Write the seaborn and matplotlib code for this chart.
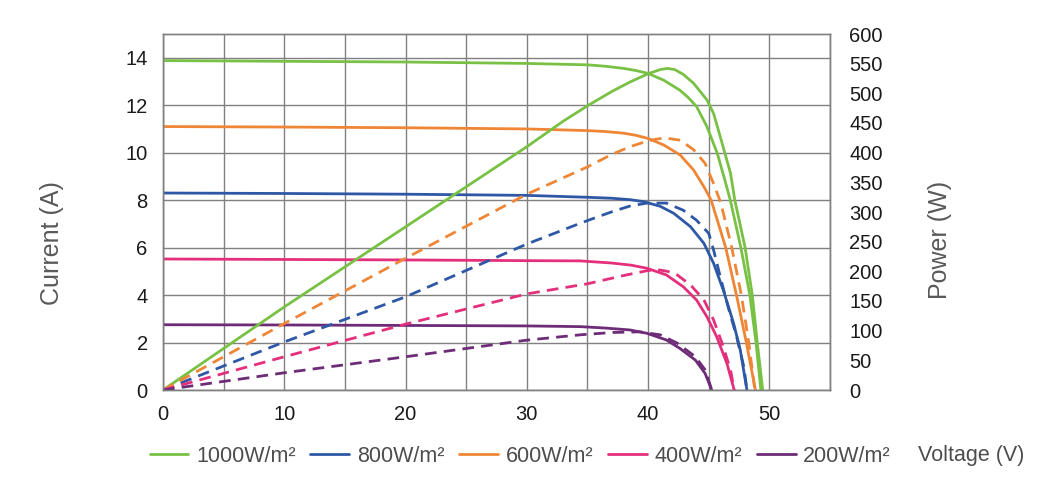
import matplotlib
matplotlib.use("Agg")
import matplotlib.pyplot as plt
from matplotlib.lines import Line2D
import seaborn as sns

# ---------------- data ----------------
labels = ["1000W/m²", "800W/m²", "600W/m²", "400W/m²", "200W/m²"]
colors = ["#78c144", "#2e58a6", "#ef8636", "#e4307c", "#6e2c78"]

# I-V curves (current in A)
v_iv_1000 = [0, 10, 20, 30, 35, 36.5, 38, 39, 40, 41.3, 42.6, 43.3, 44, 44.85, 45.7, 46.3, 46.78, 47.65, 48.4, 48.9, 49.3]
i_iv_1000 = [13.88, 13.85, 13.82, 13.76, 13.7, 13.64, 13.55, 13.46, 13.34, 13.05, 12.64, 12.33, 11.94, 11.1, 9.98, 8.9, 8.0, 6.0, 3.97, 2.0, 0]

v_iv_800 = [0, 10, 20, 30, 35, 37, 38.5, 39.6, 41, 42.1, 43.5, 44.6, 45.4, 46.2, 47.05, 47.6, 48.15]
i_iv_800 = [8.3, 8.28, 8.25, 8.2, 8.12, 8.08, 8.02, 7.94, 7.74, 7.45, 6.88, 6.18, 5.34, 4.21, 2.81, 1.69, 0]

v_iv_600 = [0, 10, 20, 30, 35, 36.5, 38, 39, 40, 41.3, 42.65, 43.75, 44.6, 45.2, 46.4, 47.3, 48.1, 48.85]
i_iv_600 = [11.1, 11.08, 11.05, 11.0, 10.93, 10.89, 10.82, 10.73, 10.6, 10.32, 9.9, 9.27, 8.57, 8.0, 6.0, 3.97, 2.0, 0]

v_iv_400 = [0, 10, 20, 30, 34.4, 37, 38.6, 39.9, 41.5, 42.9, 44.0, 44.85, 45.65, 46.5, 47.1]
i_iv_400 = [5.52, 5.5, 5.48, 5.45, 5.44, 5.35, 5.26, 5.13, 4.85, 4.35, 3.79, 3.09, 2.25, 1.12, 0]

v_iv_200 = [0, 10, 20, 30, 34.4, 36.5, 38.5, 39.9, 41.5, 42.6, 43.9, 44.7, 45.25]
i_iv_200 = [2.75, 2.74, 2.72, 2.7, 2.67, 2.61, 2.53, 2.39, 2.11, 1.76, 1.26, 0.70, 0]

# P-V curves (power in W)
v_p_1000 = [0, 10, 20, 30, 33, 35, 37, 38.5, 40, 41, 41.6, 42.2, 42.9, 43.75, 44.85, 45.4, 45.95, 46.8, 47.15, 48.0, 48.6, 49.0, 49.45]
p_1000 = [0, 140, 275, 410, 453, 479, 503, 519, 533, 540, 542, 540, 532, 517, 489, 466, 427, 365, 320, 240, 159, 80, 0]

v_p_800 = [0, 10, 20, 30, 34.4, 36, 37.1, 38.5, 39.9, 41.5, 42.9, 44.0, 45.0, 45.4, 45.95, 46.6, 47.3, 47.9, 48.15]
p_800 = [0, 81, 157, 246, 281, 293, 301, 310, 315, 315, 303, 286, 264, 236, 191, 140, 90, 39, 0]

v_p_600 = [0, 10, 20, 30, 35, 37, 38.5, 40, 41.3, 42.65, 43.75, 44.7, 45.4, 46.0, 46.9, 47.7, 48.3, 48.8]
p_600 = [0, 112, 222, 330, 376, 397, 410, 420, 425, 421, 405, 382, 348, 315, 240, 159, 80, 0]

v_p_400 = [0, 10, 20, 30, 35, 38, 39.9, 40.7, 41.6, 42.4, 43.5, 44.6, 45.4, 46.1, 46.8, 47.1]
p_400 = [0, 56, 111, 162, 179, 193, 201, 203, 200, 194, 177, 152, 118, 79, 34, 0]

v_p_200 = [0, 10, 20, 30, 34.4, 37.1, 39.3, 41.0, 42.4, 43.9, 44.7, 45.25]
p_200 = [0, 29, 56, 84, 93, 97, 98, 93, 79, 56, 34, 0]

x_ticks = [0, 10, 20, 30, 40, 50]
y_ticks = [0, 2, 4, 6, 8, 10, 12, 14]
p_ticks = list(range(0, 601, 50))

# ---------------- plotting ----------------
sns.set_theme(style="white")
plt.rcParams["font.family"] = ["Liberation Sans", "DejaVu Sans"]

fig = plt.figure(figsize=(10.6, 4.88), dpi=100)
ax = fig.add_axes([163 / 1060, 1 - 390 / 488, (830 - 163) / 1060, (390 - 34) / 488])
ax2 = ax.twinx()

iv_sets = [(v_iv_1000, i_iv_1000), (v_iv_800, i_iv_800), (v_iv_600, i_iv_600),
           (v_iv_400, i_iv_400), (v_iv_200, i_iv_200)]
p_sets = [(v_p_1000, p_1000), (v_p_800, p_800), (v_p_600, p_600),
          (v_p_400, p_400), (v_p_200, p_200)]

lw = 2.0
for k, ((vx, iy), (pv, pw)) in enumerate(zip(iv_sets, p_sets)):
    sns.lineplot(x=vx, y=iy, ax=ax, color=colors[k], lw=lw, sort=False,
                 estimator=None, legend=False)
    ls = "-" if k == 0 else (0, (4.2, 2.6))
    sns.lineplot(x=pv, y=pw, ax=ax2, color=colors[k], lw=lw, sort=False,
                 estimator=None, legend=False, linestyle=ls)

ax.set_xlim(0, 55)
ax.set_ylim(0, 15)
ax2.set_ylim(0, 600)
ax.set_xticks(x_ticks)
ax.set_xticks([5, 15, 25, 35, 45, 55], minor=True)
ax.set_yticks(y_ticks)
ax2.set_yticks(p_ticks)

gcol = "#808080"
ax.grid(True, which="both", color=gcol, lw=1.0)
ax2.grid(False)
ax.set_axisbelow(True)
for a in (ax, ax2):
    for s in a.spines.values():
        s.set_color(gcol)
        s.set_linewidth(1.0)
ax.set_xlabel("")
ax.set_ylabel("")
ax2.set_ylabel("")

tick_col = "#1a1a1a"
ax.tick_params(axis="y", length=0, pad=11, labelsize=14.5, labelcolor=tick_col)
ax.tick_params(axis="x", which="both", length=0, pad=11, labelsize=14.5, labelcolor=tick_col)
ax2.tick_params(axis="y", length=0, pad=14, labelsize=14.5, labelcolor=tick_col)

lab_col = "#595959"
fig.text(52 / 1060, 1 - 243 / 488, "Current (A)", rotation=90, ha="center", va="center",
         fontsize=18, color=lab_col)
fig.text(940 / 1060, 1 - 240 / 488, "Power (W)", rotation=90, ha="center", va="center",
         fontsize=18, color=lab_col)

handles = [Line2D([0], [0], color=c, lw=2.0) for c in colors]
leg = fig.legend(handles, labels, loc="center left", bbox_to_anchor=(141 / 1060, 1 - 456 / 488),
                 ncol=5, frameon=False, handlelength=1.8, handletextpad=0.35,
                 columnspacing=0.7, fontsize=15.5, borderaxespad=0, borderpad=0.4)
for t in leg.get_texts():
    t.set_color("#4d4d4d")
fig.text(918 / 1060, 1 - 456 / 488, "Voltage (V)", ha="left", va="center",
         fontsize=15.5, color="#4d4d4d")

fig.savefig("out.png", dpi=100)
